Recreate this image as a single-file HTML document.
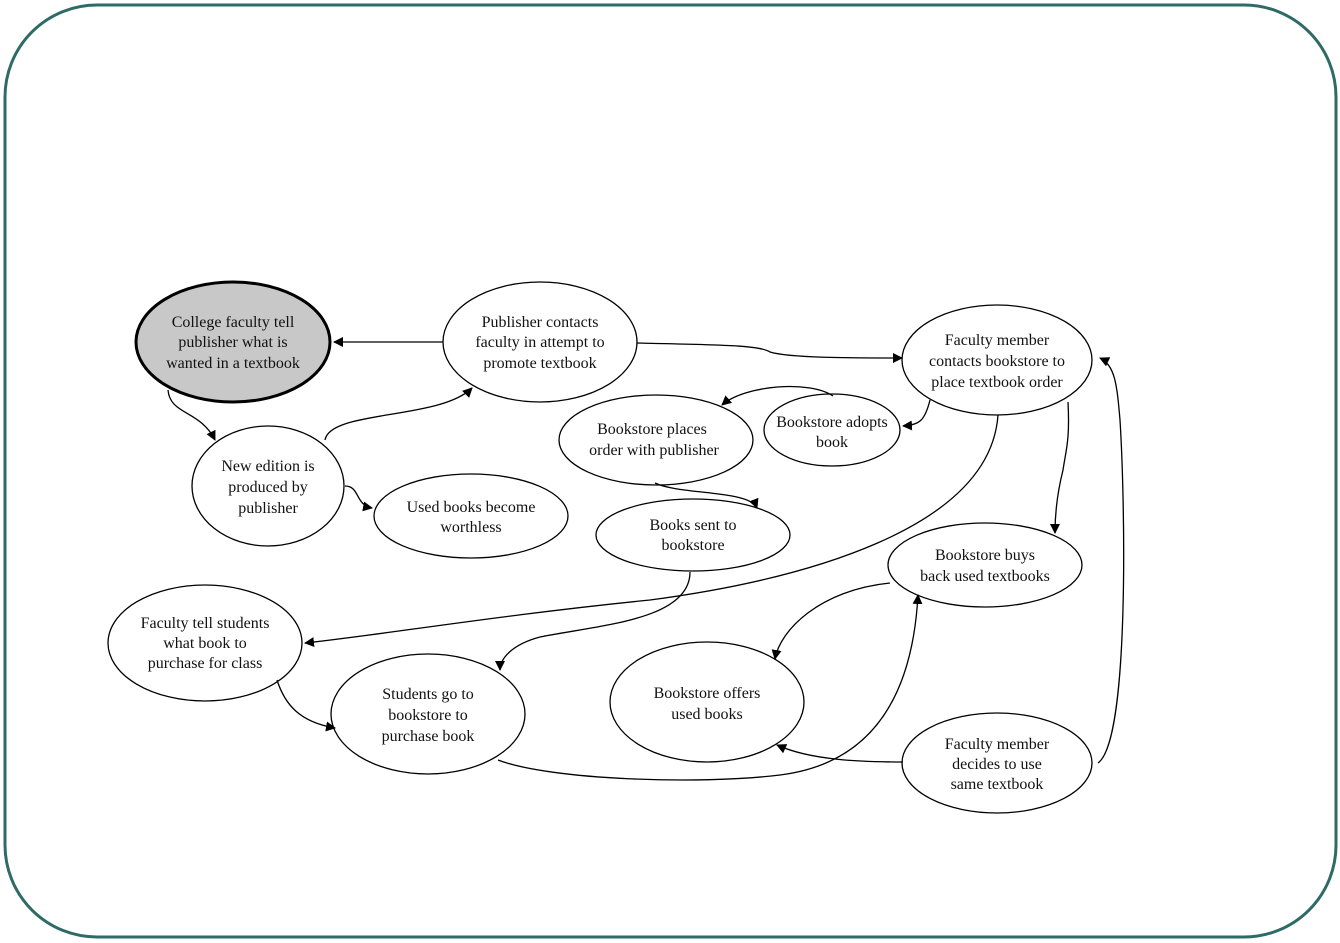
<!DOCTYPE html>
<html><head><meta charset="utf-8"><style>
html,body{margin:0;padding:0;background:#fff;}
svg{display:block}
text{font-family:"Liberation Serif",serif;font-size:16px;fill:#111;text-anchor:middle}
</style></head><body>
<svg width="1340" height="943" viewBox="0 0 1340 943">
<defs><marker id="a" markerWidth="10" markerHeight="10" refX="9" refY="5" orient="auto" markerUnits="userSpaceOnUse"><path d="M0,0 L10,5 L0,10 z" fill="#000"/></marker></defs>
<rect x="5" y="5" width="1331" height="932" rx="92" ry="92" fill="#fff" stroke="#2f6b66" stroke-width="3"/>
<g fill="#fff" stroke="#000" stroke-width="1.3">
<ellipse cx="233" cy="342" rx="97" ry="60" fill="#c8c8c8" stroke-width="3"/>
<ellipse cx="540" cy="342" rx="97" ry="60"/>
<ellipse cx="997" cy="360" rx="95" ry="55"/>
<ellipse cx="656" cy="440" rx="97" ry="45"/>
<ellipse cx="832" cy="430" rx="68" ry="36"/>
<ellipse cx="268" cy="486" rx="76" ry="60"/>
<ellipse cx="471" cy="516" rx="97" ry="42"/>
<ellipse cx="693" cy="535" rx="97" ry="36"/>
<ellipse cx="985" cy="565" rx="97" ry="42"/>
<ellipse cx="205" cy="643" rx="97" ry="58"/>
<ellipse cx="428" cy="714" rx="97" ry="60"/>
<ellipse cx="707" cy="702" rx="97" ry="60"/>
<ellipse cx="997" cy="763" rx="95" ry="50"/>
</g>
<g fill="none" stroke="#000" stroke-width="1.3" marker-end="url(#a)">
<path d="M443,342 L334,342"/>
<path d="M168,390 C170,415 200,410 215,440"/>
<path d="M325,440 C330,410 440,420 472,388"/>
<path d="M345,486 C360,486 355,505 372,508"/>
<path d="M637,343 C720,345 760,345 770,352 C790,358 850,358 902,358"/>
<path d="M833,396 C810,380 745,385 722,405"/>
<path d="M930,400 C925,420 920,425 903,426"/>
<path d="M655,483 C680,495 750,490 757,508"/>
<path d="M1068,402 C1070,440 1066,450 1063,470 C1058,490 1055,510 1055,533"/>
<path d="M998,415 C990,530 800,580 650,600 C500,615 380,635 305,643"/>
<path d="M690,572 C690,620 600,625 540,637 C510,645 500,660 500,670"/>
<path d="M277,680 C285,705 300,722 335,728"/>
<path d="M890,583 C820,590 780,630 775,659"/>
<path d="M498,760 C550,780 700,785 780,775 C900,760 915,650 918,595"/>
<path d="M903,762 C860,762 810,760 777,745"/>
<path d="M1098,763 C1130,740 1125,500 1120,420 C1117,385 1115,365 1100,358"/>
</g>
<text x="233" y="327">College faculty tell</text>
<text x="233" y="347">publisher what is</text>
<text x="233" y="368">wanted in a textbook</text>
<text x="540" y="327">Publisher contacts</text>
<text x="540" y="347">faculty in attempt to</text>
<text x="540" y="368">promote textbook</text>
<text x="997" y="345">Faculty member</text>
<text x="997" y="366">contacts bookstore to</text>
<text x="997" y="387">place textbook order</text>
<text x="652" y="434">Bookstore places</text>
<text x="654" y="455">order with publisher</text>
<text x="832" y="427">Bookstore adopts</text>
<text x="832" y="447">book</text>
<text x="268" y="471">New edition is</text>
<text x="268" y="492">produced by</text>
<text x="268" y="513">publisher</text>
<text x="471" y="512">Used books become</text>
<text x="471" y="532">worthless</text>
<text x="693" y="530">Books sent to</text>
<text x="693" y="550">bookstore</text>
<text x="985" y="560">Bookstore buys</text>
<text x="985" y="581">back used textbooks</text>
<text x="205" y="628">Faculty tell students</text>
<text x="205" y="648">what book to</text>
<text x="205" y="668">purchase for class</text>
<text x="428" y="699">Students go to</text>
<text x="428" y="720">bookstore to</text>
<text x="428" y="741">purchase book</text>
<text x="707" y="698">Bookstore offers</text>
<text x="707" y="719">used books</text>
<text x="997" y="749">Faculty member</text>
<text x="997" y="769">decides to use</text>
<text x="997" y="789">same textbook</text>
</svg>
</body></html>
